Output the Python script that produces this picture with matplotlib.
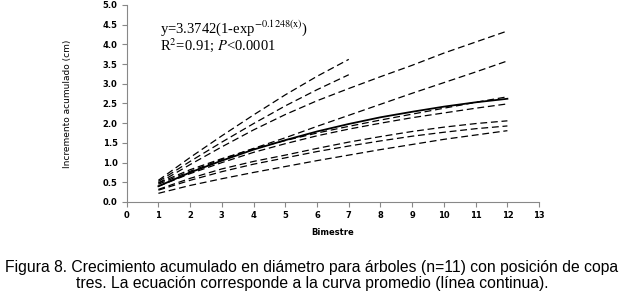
import matplotlib
matplotlib.use("Agg")
import matplotlib.pyplot as plt

# --- DATOS ---
bimestre = [1, 2, 3, 4, 5, 6, 7, 8, 9, 10, 11, 12]
bimestre_corto = [1, 2, 3, 4, 5, 6, 7]

# curva promedio (linea continua)
promedio = [0.40, 0.75, 1.05, 1.33, 1.57, 1.79, 1.98, 2.15, 2.29, 2.42, 2.53, 2.62]

# arboles individuales (lineas discontinuas)
arbol_a = [0.55, 1.13, 1.68, 2.21, 2.72, 3.19, 3.62]
arbol_b = [0.52, 1.03, 1.52, 1.99, 2.44, 2.85, 3.23]
arbol_c = [0.48, 0.95, 1.40, 1.83, 2.22, 2.57, 2.88, 3.18, 3.47, 3.78, 4.06, 4.34]
arbol_d = [0.45, 0.78, 1.08, 1.36, 1.63, 1.92, 2.20, 2.48, 2.76, 3.03, 3.30, 3.58]
arbol_e = [0.48, 0.82, 1.10, 1.35, 1.56, 1.75, 1.92, 2.08, 2.23, 2.38, 2.53, 2.67]
arbol_f = [0.40, 0.72, 1.00, 1.26, 1.48, 1.68, 1.85, 2.00, 2.14, 2.26, 2.38, 2.49]
arbol_g = [0.32, 0.60, 0.84, 1.03, 1.19, 1.36, 1.52, 1.66, 1.79, 1.90, 1.99, 2.06]
arbol_h = [0.30, 0.55, 0.77, 0.96, 1.12, 1.28, 1.42, 1.55, 1.67, 1.77, 1.86, 1.93]
arbol_i = [0.22, 0.42, 0.59, 0.75, 0.90, 1.05, 1.19, 1.33, 1.46, 1.59, 1.70, 1.81]

xticks = list(range(0, 14))
yticks = [0.0, 0.5, 1.0, 1.5, 2.0, 2.5, 3.0, 3.5, 4.0, 4.5, 5.0]

# --- GRAFICO ---
plt.rcParams['mathtext.fontset'] = 'stix'
fig = plt.figure(figsize=(6.24, 2.93), dpi=100)
ax = fig.add_axes([0.203, 0.3106, 0.661, 0.6724])

dash = (0, (5.5, 3))
for serie in [arbol_c, arbol_d, arbol_e, arbol_f, arbol_g, arbol_h, arbol_i]:
    ax.plot(bimestre, serie, color='black', lw=0.9, linestyle=dash)
for serie in [arbol_a, arbol_b]:
    ax.plot(bimestre_corto, serie, color='black', lw=0.9, linestyle=dash)
ax.plot(bimestre, promedio, color='black', lw=1.3)

ax.set_xlim(0, 13)
ax.set_ylim(0, 5)
ax.set_xticks(xticks)
ax.set_yticks(yticks)
ax.set_xticklabels([str(t) for t in xticks], fontsize=6, fontweight='bold')
ax.set_yticklabels([f"{t:.1f}" for t in yticks], fontsize=6, fontweight='bold')
ax.tick_params(axis='both', length=3.5, width=0.8, color='#888888', pad=3)

for s in ['top', 'right']:
    ax.spines[s].set_visible(False)
for s in ['left', 'bottom']:
    ax.spines[s].set_color('#888888')
    ax.spines[s].set_linewidth(0.8)

ax.set_xlabel("Bimestre", fontsize=6, fontweight='bold', labelpad=6)
ax.set_ylabel("Incremento acumulado (cm)", fontsize=6.5, labelpad=22)

ax.text(1.05, 4.66, r"y=3.3742(1-exp$^{\mathrm{-0.1248(x)}}$)", fontsize=10.5,
        family='Liberation Serif', va='top')
ax.text(1.05, 4.2, r"R$^{2}$=0.91; $P$<0.0001", fontsize=10.5,
        family='Liberation Serif', va='top')

fig.text(0.5, 0.088, "Figura 8. Crecimiento acumulado en diámetro para árboles (n=11) con posición de copa",
         ha='center', va='center', fontsize=11.3, family='Liberation Sans')
fig.text(0.5, 0.032, "tres. La ecuación corresponde a la curva promedio (línea continua).",
         ha='center', va='center', fontsize=11.3, family='Liberation Sans')

fig.savefig("out.png", dpi=100)
